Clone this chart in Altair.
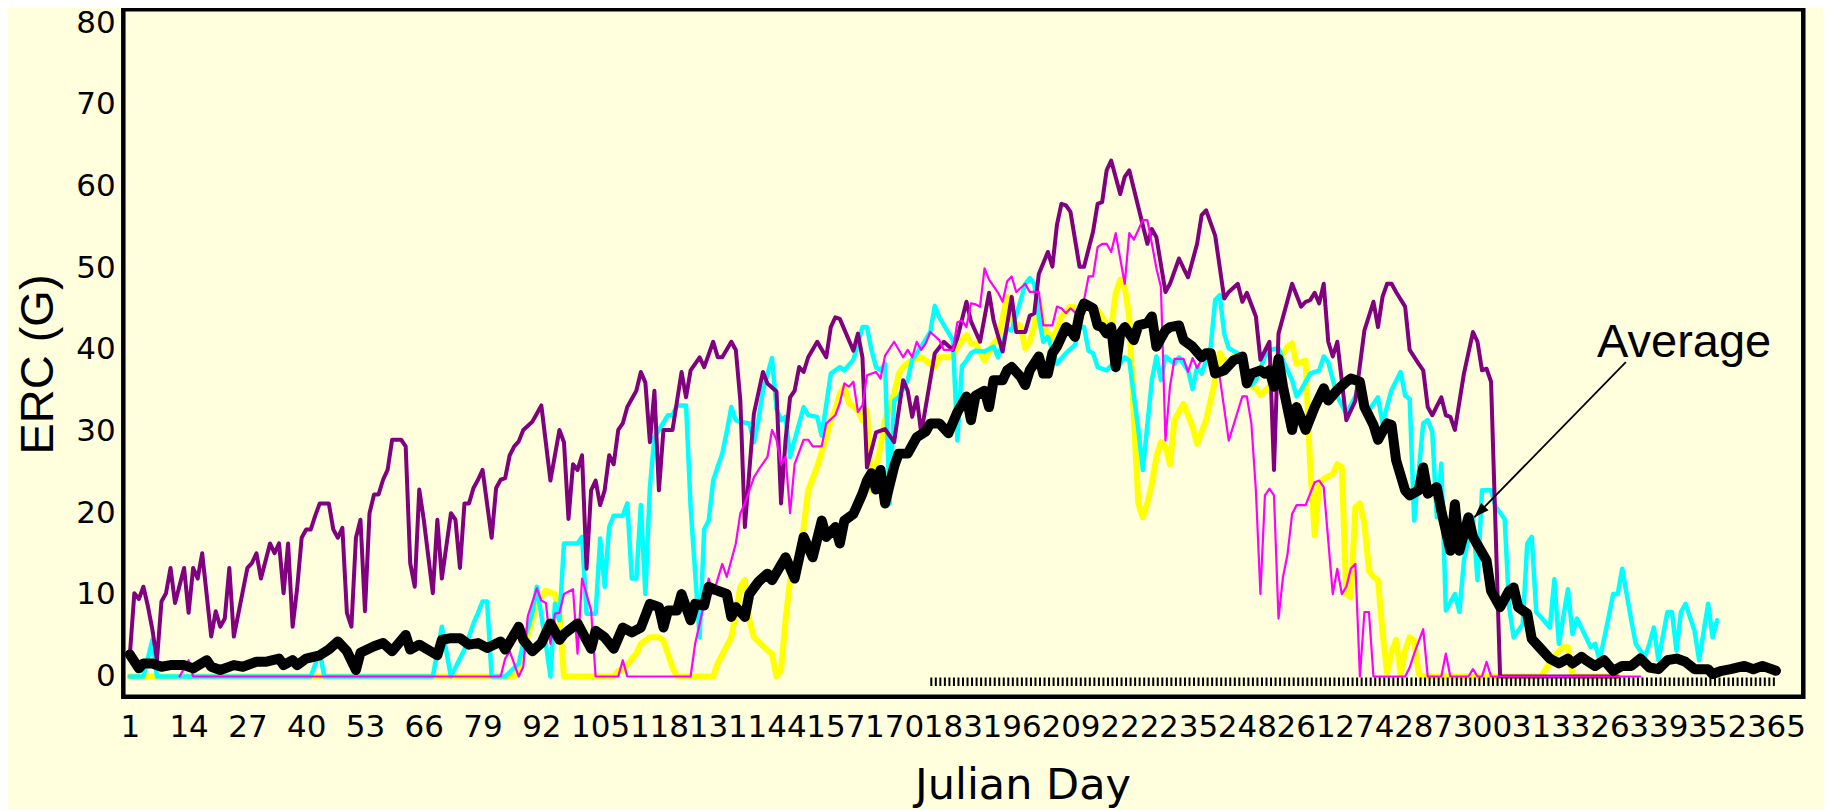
import altair as alt
import pandas as pd

FONT = "Liberation Sans"
AXFONT = "DejaVu Sans"
BG = "#FFFFDD"

X_TICKS = [1, 14, 27, 40, 53, 66, 79, 92, 105, 118, 131, 144, 157, 170, 183,
           196, 209, 222, 235, 248, 261, 274, 287, 300, 313, 326, 339, 352, 365]
Y_TICKS = [0, 10, 20, 30, 40, 50, 60, 70, 80]

PURPLE = [(1,2.6),(2,10.2),(3,9.5),(4,11.0),(5,8.6),(6,5.7),(7,2.0),(8,9.2),(9,10.2),(10,13.3),(11,9.0),(13,13.3),(14,7.8),(15,13.3),(16,12.0),(17,15.1),(19,4.9),(20,8.0),(21,6.1),(22,7.1),(23,13.3),(24,4.9),(27,13.3),(28,13.9),(29,15.1),(30,12.0),(32,16.3),(33,15.1),(34,16.3),(35,10.2),(36,16.3),(37,6.1),(38,10.8),(39,17.0),(40,18.0),(41,18.0),(42,19.7),(43,21.2),(45,21.2),(46,18.0),(47,17.0),(48,18.2),(49,7.8),(50,6.1),(51,17.0),(52,19.2),(53,8.0),(54,20.0),(55,22.3),(56,22.3),(57,24.1),(58,25.3),(59,29.0),(61,29.0),(62,28.2),(63,13.9),(64,11.0),(65,22.9),(66,19.2),(68,10.2),(69,19.2),(70,12.0),(72,20.0),(73,19.2),(74,13.3),(75,21.2),(76,21.2),(77,23.1),(78,24.1),(79,25.3),(81,17.0),(82,23.1),(83,24.1),(84,24.3),(85,27.1),(86,28.2),(87,28.8),(88,30.2),(90,31.2),(92,33.2),(94,24.0),(96,30.2),(97,28.7),(98,19.3),(99,26.0),(100,25.3),(101,27.1),(102,13.2),(103,22.8),(104,24.0),(105,21.0),(106,22.8),(107,27.1),(108,26.0),(109,30.2),(110,31.0),(111,33.0),(113,35.0),(114,37.3),(115,36.0),(116,28.7),(117,35.0),(118,22.8),(119,30.2),(121,30.2),(123,37.3),(124,34.2),(125,37.5),(127,39.1),(128,37.9),(130,41.0),(131,39.1),(132,39.1),(134,41.0),(135,40.0),(136,33.8),(137,18.3),(139,32.2),(141,37.3),(142,35.9),(144,34.9),(145,21.2),(146,29.0),(147,34.2),(148,35.0),(149,37.9),(150,37.3),(151,39.1),(153,41.0),(155,39.1),(156,42.8),(157,44.0),(158,43.8),(161,39.9),(162,42.0),(163,39.1),(164,25.6),(166,29.9),(168,30.3),(170,28.7),(172,36.3),(173,35.0),(174,31.8),(175,34.2),(176,29.8),(179,39.6),(181,41.0),(183,40.0),(184,41.5),(186,45.9),(187,43.5),(189,41.0),(191,47.0),(192,43.6),(194,39.8),(196,46.5),(197,42.2),(199,42.2),(200,44.2),(201,44.5),(202,49.3),(204,52.0),(205,50.2),(206,55.3),(207,57.9),(208,57.7),(209,56.9),(211,50.2),(212,50.2),(214,54.5),(215,57.9),(216,58.1),(217,62.0),(218,63.2),(220,59.1),(221,61.2),(222,62.0),(224,57.5),(226,53.0),(227,54.8),(228,53.8),(230,47.1),(231,48.1),(233,51.2),(234,50.0),(235,48.9),(237,53.0),(238,56.5),(239,57.1),(241,54.0),(243,46.3),(244,47.1),(246,48.1),(247,45.9),(248,47.0),(250,44.1),(251,38.8),(253,41.0),(254,25.3),(255,42.0),(258,48.1),(260,45.3),(261,45.9),(262,46.1),(263,47.0),(264,45.7),(265,48.1),(266,41.0),(267,39.2),(268,41.0),(270,31.4),(272,33.8),(274,42.4),(276,45.9),(277,42.8),(278,46.5),(279,48.1),(280,48.1),(281,47.1),(283,45.3),(284,40.0),(286,38.3),(287,37.5),(288,33.0),(289,32.0),(291,34.2),(292,32.0),(293,31.8),(294,30.2),(296,37.1),(298,42.2),(299,41.0),(300,37.5),(301,37.7),(302,36.1),(304,0.0),(330,0.0)]

CYAN = [(1,0),(4,0),(6,4.5),(7,0),(41,0),(43,3.0),(44,0),(68,0),(70,6.1),(72,0),(75,3.3),(77,6.5),(78,7.8),(79,9.2),(80,9.2),(81,0),(84,0),(87,1.6),(88,4.1),(90,7.8),(91,11.0),(93,4.0),(94,0),(95,8.9),(96,6.9),(97,16.3),(100,16.3),(101,17.1),(102,7.7),(104,7.7),(105,16.9),(106,11.0),(107,18.3),(108,19.7),(110,19.7),(111,21.2),(112,12.0),(113,12.0),(114,21.0),(115,10.1),(116,23.2),(117,29.3),(120,32.0),(121,32.0),(122,33.2),(124,33.2),(125,20.8),(127,4.8),(128,18.0),(129,19.1),(130,24.0),(131,25.7),(132,27.3),(133,30.0),(134,33.0),(135,31.4),(136,31.2),(138,31.0),(139,28.7),(140,31.4),(141,35.0),(143,39.0),(144,32.8),(145,31.4),(146,31.8),(147,26.9),(150,33.0),(151,32.0),(153,31.8),(154,29.5),(156,37.1),(157,37.5),(158,37.9),(159,37.5),(161,38.8),(163,42.8),(164,42.8),(165,40.0),(166,37.9),(167,37.5),(168,38.3),(169,21.2),(170,33.8),(171,34.2),(173,36.3),(174,38.8),(176,40.4),(178,42.2),(179,45.4),(180,44.0),(183,41.2),(184,28.9),(185,38.0),(186,38.7),(187,39.6),(188,39.9),(190,39.8),(192,40.4),(193,39.1),(195,42.6),(196,42.4),(198,46.1),(199,48.1),(200,48.8),(201,48.1),(202,44.0),(203,41.0),(204,41.6),(206,38.3),(208,39.6),(210,40.6),(211,42.8),(212,42.8),(213,39.9),(214,39.6),(215,37.9),(217,37.5),(218,38.1),(219,37.5),(221,39.1),(222,38.7),(224,30.3),(225,25.3),(227,36.3),(228,39.2),(229,36.3),(230,39.2),(232,38.3),(233,39.1),(235,37.5),(236,35.2),(237,37.9),(238,37.1),(240,40.4),(241,46.1),(242,46.7),(243,42.0),(244,40.2),(246,39.6),(247,38.7),(249,35.7),(250,36.3),(252,39.2),(253,40.0),(255,40.2),(256,38.7),(258,36.3),(259,34.3),(260,35.1),(262,37.1),(264,37.5),(265,39.2),(266,38.5),(268,34.3),(270,32.2),(272,34.3),(273,35.9),(274,33.4),(275,32.6),(277,34.2),(278,31.0),(280,35.1),(282,37.3),(283,34.4),(284,34.0),(285,19.1),(287,31.0),(288,31.4),(289,30.0),(290,19.5),(291,26.1),(292,8.1),(294,10.1),(295,7.9),(296,14.2),(298,19.5),(299,11.8),(300,22.8),(302,22.8),(303,20.8),(305,19.3),(306,8.5),(307,4.8),(309,6.4),(310,16.3),(311,17.1),(312,7.9),(313,7.3),(315,6.0),(316,11.9),(317,4.0),(319,10.7),(320,5.2),(321,7.1),(323,4.8),(324,3.6),(325,4.0),(326,2.0),(328,7.3),(329,10.1),(330,10.1),(331,13.2),(333,6.9),(334,4.0),(336,2.4),(337,4.0),(338,6.0),(339,2.0),(341,7.9),(342,7.9),(343,3.2),(344,7.9),(345,8.9),(347,5.6),(348,2.0),(350,8.9),(351,4.8),(352,6.9)]

YELLOW = [(1,0),(86,0),(87,1.2),(89,5.0),(91,9.0),(93,10.5),(95,10.1),(96,7.7),(97,0),(108,0),(109,0.7),(110,0.8),(113,2.8),(114,4.0),(116,4.8),(118,4.8),(119,4.4),(121,1.1),(122,0),(130,0),(131,1.6),(134,4.8),(135,7.7),(136,11.0),(137,11.8),(138,6.9),(139,4.8),(142,3.2),(143,2.8),(144,0),(145,0.8),(146,6.9),(147,11.8),(149,14.2),(150,18.3),(151,22.8),(153,25.7),(155,29.3),(156,31.4),(157,32.6),(158,34.6),(159,35.5),(160,33.5),(162,32.6),(163,31.4),(164,32.6),(165,22.8),(167,28.2),(168,31.4),(170,34.6),(171,37.0),(172,37.9),(174,38.8),(176,39.1),(177,38.7),(179,37.9),(180,39.1),(182,39.1),(183,39.3),(184,40.4),(186,41.8),(187,40.8),(188,40.8),(190,38.7),(192,40.8),(193,41.3),(195,46.5),(196,43.6),(198,42.9),(199,40.2),(200,41.0),(201,42.9),(202,46.1),(203,42.9),(205,41.3),(206,42.5),(207,44.1),(209,45.3),(211,45.1),(212,45.7),(214,44.9),(215,44.9),(217,43.2),(218,42.6),(219,46.9),(220,48.6),(221,47.7),(222,44.0),(223,32.0),(224,21.2),(225,19.5),(226,21.2),(227,23.6),(228,26.9),(229,28.7),(230,28.1),(231,26.0),(232,31.4),(234,33.4),(236,30.6),(237,28.5),(239,31.4),(241,36.3),(242,39.6),(244,37.9),(245,39.2),(247,39.2),(248,35.9),(250,35.3),(251,34.5),(253,35.5),(255,38.7),(257,40.4),(258,40.8),(259,38.3),(261,38.7),(262,25.9),(263,17.3),(264,23.6),(265,24.2),(267,24.8),(268,26.0),(269,25.6),(270,10.1),(271,9.7),(272,20.7),(273,21.2),(274,18.7),(275,13.0),(276,12.2),(277,11.8),(278,5.5),(279,0.5),(280,3.0),(281,4.5),(282,0.3),(283,3.2),(284,4.8),(285,4.4),(286,0.3),(287,0),(313,0),(314,0.8),(316,2.5),(318,3.6),(319,3.6),(320,0.3),(321,0),(330,0)]

MAGENTA = [(12,0),(14,2.0),(15,0),(83,0),(84,2.2),(85,3.1),(87,0),(88,1.2),(89,7.4),(91,10.8),(92,9.3),(93,9.0),(94,4.0),(95,7.7),(96,7.8),(97,10.1),(99,10.7),(100,2.8),(101,12.0),(103,8.1),(104,0),(109,0),(110,2.0),(111,0),(125,0),(126,4.0),(128,8.9),(129,12.0),(130,10.1),(132,13.8),(133,12.2),(135,16.3),(136,20.0),(137,21.2),(139,24.4),(140,25.3),(142,26.9),(143,30.2),(144,29.0),(145,26.0),(146,26.9),(147,20.0),(148,26.0),(150,29.0),(151,29.0),(152,28.2),(154,28.2),(155,31.0),(157,32.0),(158,33.5),(159,35.9),(160,35.5),(161,36.1),(162,32.4),(163,33.2),(164,36.9),(166,37.3),(167,36.5),(168,39.3),(170,41.0),(172,39.1),(173,40.0),(174,39.1),(175,41.0),(176,40.0),(177,40.8),(178,42.2),(180,41.2),(181,40.0),(183,40.0),(184,43.4),(185,43.6),(186,42.8),(187,45.7),(188,45.6),(189,45.3),(190,50.0),(191,48.6),(193,47.0),(194,45.9),(195,48.4),(196,49.0),(197,47.1),(199,48.1),(200,47.1),(202,47.1),(203,43.0),(205,43.0),(206,45.3),(207,45.1),(208,44.5),(209,45.1),(211,44.1),(212,46.1),(213,49.0),(214,49.0),(215,52.6),(216,53.0),(217,53.0),(218,52.0),(219,54.3),(221,48.1),(222,54.3),(223,53.5),(225,55.9),(226,55.9),(227,53.0),(228,50.0),(229,47.7),(230,28.9),(231,35.5),(232,38.9),(234,38.9),(235,37.3),(236,39.0),(237,37.8),(239,39.8),(240,37.8),(241,38.9),(242,36.7),(244,28.9),(247,34.3),(248,34.3),(249,31.0),(250,22.8),(251,10.1),(252,22.2),(253,23.0),(254,22.2),(255,7.1),(256,12.2),(257,15.0),(258,19.9),(259,21.0),(261,21.0),(263,23.8),(264,24.0),(265,23.2),(267,10.1),(268,13.2),(269,10.1),(270,11.0),(271,13.2),(272,13.8),(273,0),(274,7.9),(275,7.9),(276,0),(283,0),(284,1.1),(285,2.8),(287,5.8),(288,0),(291,0),(292,2.8),(293,0),(297,0),(298,0.9),(299,0),(300,0),(301,1.8),(302,0),(335,0)]

AVERAGE = [(1,2.7),(3,1.0),(4,1.6),(6,1.6),(8,1.2),(10,1.4),(13,1.4),(15,1.0),(18,2.0),(19,1.2),(21,0.8),(24,1.4),(26,1.2),(29,1.8),(31,1.8),(34,2.2),(35,1.4),(37,2.0),(38,1.4),(40,2.2),(43,2.6),(45,3.3),(47,4.3),(49,3.1),(51,0.8),(52,2.9),(55,3.7),(57,4.1),(59,3.1),(62,5.1),(63,3.3),(65,3.9),(69,2.6),(70,4.5),(72,4.7),(74,4.7),(76,3.9),(78,4.1),(80,3.5),(83,4.3),(84,3.3),(87,6.1),(88,4.5),(90,3.1),(92,4.1),(94,6.5),(96,4.5),(97,5.2),(100,6.5),(103,3.4),(104,5.6),(106,4.8),(108,3.4),(110,6.0),(112,5.4),(114,6.0),(116,8.9),(117,8.7),(118,8.5),(119,6.0),(120,8.1),(122,8.1),(123,10.1),(125,6.9),(126,8.9),(128,8.7),(129,11.0),(131,10.5),(133,10.1),(134,7.3),(135,8.5),(137,7.3),(138,10.1),(140,11.6),(142,12.6),(143,11.8),(146,14.6),(148,12.0),(150,17.1),(152,14.6),(154,19.1),(155,17.1),(157,18.3),(158,16.3),(159,19.1),(161,19.9),(163,22.4),(164,24.0),(165,24.9),(166,22.9),(167,25.3),(168,21.2),(170,25.7),(171,27.3),(173,27.3),(175,29.3),(177,30.0),(178,31.0),(180,31.0),(182,29.8),(184,32.4),(186,34.3),(187,31.4),(188,34.4),(190,35.0),(191,33.0),(192,36.3),(194,36.3),(195,37.5),(196,37.9),(198,36.7),(199,35.7),(200,37.5),(202,39.2),(203,37.1),(204,37.1),(205,39.6),(206,40.4),(208,42.8),(209,42.4),(210,41.6),(211,44.4),(212,45.7),(214,45.1),(215,43.0),(216,42.8),(217,42.0),(218,42.8),(219,37.9),(220,42.0),(221,42.8),(223,41.2),(224,43.0),(226,43.3),(227,44.1),(228,40.4),(230,42.4),(231,42.8),(233,43.0),(234,41.2),(235,40.8),(236,40.4),(238,39.1),(239,39.6),(240,39.6),(241,37.1),(243,37.5),(245,38.7),(247,39.2),(248,35.9),(249,37.1),(251,37.5),(252,37.1),(253,37.5),(254,35.5),(255,38.9),(256,35.5),(258,30.2),(259,33.0),(261,30.2),(263,33.0),(265,35.3),(266,33.8),(268,35.1),(270,36.1),(271,36.5),(273,36.1),(274,33.0),(276,30.8),(277,29.0),(279,31.0),(280,30.8),(281,26.5),(283,22.8),(284,22.2),(286,22.8),(287,25.6),(288,22.4),(290,23.2),(291,20.3),(293,15.4),(294,21.1),(295,15.4),(297,19.5),(298,17.1),(301,14.2),(302,10.5),(304,8.5),(306,10.5),(307,10.9),(308,8.5),(310,7.7),(311,4.6),(313,3.4),(315,2.2),(317,1.6),(319,2.2),(320,1.6),(322,2.4),(323,2.0),(325,1.3),(327,2.0),(329,0.7),(331,1.3),(333,1.3),(335,2.2),(337,1.1),(339,0.9),(341,2.0),(343,2.2),(345,1.8),(347,0.9),(350,0.9),(351,0.3),(353,0.7),(355,0.9),(358,1.3),(360,0.9),(362,1.3),(365,0.7)]

TICK_ROW = [{"day": 178, "day2": 365, "v": -0.65}]
LABEL = [{"text": "Average", "day": 344.7, "v": 39.1}]
ARROW = [{"day": 331.8, "v": 38.5, "day2": 298.3, "v2": 19.5}]


def frame(pairs):
    return pd.DataFrame(pairs, columns=["day", "v"])


xs = alt.Scale(domain=[-0.44, 371.04], nice=False, zero=False)
ys = alt.Scale(domain=[-2.47, 81.72], nice=False, zero=False)

xaxis = alt.Axis(values=X_TICKS, title="Julian Day", labelFont=AXFONT, labelFontSize=31,
                 labelColor="black", labelOverlap=False, labelFlush=False, ticks=False,
                 domain=False, grid=False, labelPadding=16,
                 titleFont=AXFONT, titleFontSize=43, titleFontWeight="normal",
                 titleColor="black", titleX=899.2, titleY=101.6,
                 titleBaseline="alphabetic", titleAlign="center")
yaxis = alt.Axis(values=Y_TICKS, title="ERC (G)", labelFont=AXFONT, labelFontSize=31,
                 labelColor="black", ticks=False, domain=False, grid=False,
                 labelPadding=8, titleFont=FONT, titleFontSize=47,
                 titleFontWeight="normal", titleColor="black", titleAngle=270,
                 titleX=-70.8, titleY=354.7, titleBaseline="alphabetic",
                 titleAlign="center")

X = alt.X("day:Q", scale=xs, axis=xaxis)
Y = alt.Y("v:Q", scale=ys, axis=yaxis)


def line(pairs, color, width):
    return alt.Chart(frame(pairs)).mark_line(
        color=color, strokeWidth=width, strokeJoin="round", strokeCap="round"
    ).encode(x=X, y=Y)


yellow = line(YELLOW, "#FFFF00", 6)
cyan = line(CYAN, "#00FFFF", 4.5)
purple = line(PURPLE, "#800080", 4)
magenta = line(MAGENTA, "#FF00FF", 2.2)
average = line(AVERAGE, "#000000", 10)

ticks = alt.Chart(pd.DataFrame(TICK_ROW)).mark_rule(
    color="black", strokeWidth=8.5, strokeDash=[2, 2.53]
).encode(x=X, x2="day2:Q", y=Y)

arrow_line = alt.Chart(pd.DataFrame(ARROW)).mark_rule(
    color="black", strokeWidth=1.8
).encode(x=X, x2="day2:Q", y=Y, y2="v2:Q")

arrow_head = alt.Chart(pd.DataFrame(ARROW)).mark_point(
    shape="M0,0 L0.35,1 L-0.35,1 Z", size=900, filled=True, color="black",
    opacity=1, angle=224.4
).encode(x=alt.X("day2:Q", scale=xs, axis=xaxis), y=alt.Y("v2:Q", scale=ys, axis=yaxis))

label = alt.Chart(pd.DataFrame(LABEL)).mark_text(
    font=FONT, fontSize=47, color="black", align="center", baseline="alphabetic"
).encode(x=X, y=Y, text="text:N")

chart = alt.layer(
    yellow, cyan, purple, magenta, average, ticks, arrow_line, arrow_head, label
).properties(
    width=1680,
    height=687.4,
    padding={"left": 115.3, "top": 1.3, "right": 20, "bottom": 114},
    autosize=alt.AutoSizeParams(type="none"),
    background=BG,
).configure_view(
    fill=BG, stroke="black", strokeWidth=4.5
)

chart.save("out.html", embed_options={"renderer": "svg", "actions": False})
